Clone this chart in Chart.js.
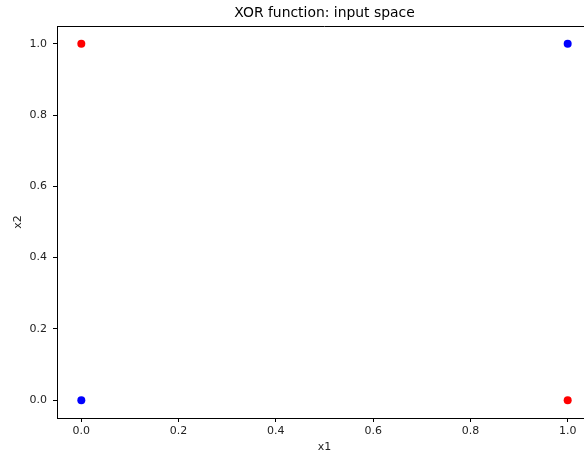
<!DOCTYPE html>
<html>
<head>
<meta charset="utf-8">
<script src="https://cdn.jsdelivr.net/npm/chart.js@4/dist/chart.umd.min.js"></script>
<style>
  html, body { margin: 0; padding: 0; background: #fff; overflow: hidden; }
  #wrap { width: 584px; height: 454px; overflow: hidden; }
</style>
</head>
<body>
<div id="wrap"><canvas id="xorChart" width="600" height="454"></canvas></div>
<script>
// XOR truth table: inputs and output class
const x1 = [0, 0, 1, 1];
const x2 = [0, 1, 0, 1];
const xorOut = [0, 1, 1, 0];
const classColors = ['#0000ff', '#ff0000'];
const tickValues = [0.0, 0.2, 0.4, 0.6, 0.8, 1.0];
const chartTitle = 'XOR function: input space';

const points = x1.map((v, i) => ({ x: v, y: x2[i] }));

// spines on top/right + title centred over the axes (like matplotlib)
const frame = {
    id: 'frame',
    afterDraw(chart) {
        const { ctx, chartArea: a } = chart;
        ctx.save();
        ctx.strokeStyle = '#000';
        ctx.lineWidth = 1;
        ctx.beginPath();
        ctx.moveTo(a.left, a.top + 0.5);
        ctx.lineTo(a.right, a.top + 0.5);
        ctx.moveTo(a.right - 0.5, a.top);
        ctx.lineTo(a.right - 0.5, a.bottom);
        ctx.stroke();

        ctx.fillStyle = '#000';
        ctx.font = '13.9px "DejaVu Sans"';
        ctx.textAlign = 'center';
        ctx.textBaseline = 'middle';
        ctx.fillText(chartTitle, (a.left + a.right) / 2, 13);
        ctx.restore();
    }
};

const fixedTicks = (scale) => { scale.ticks = tickValues.map(v => ({ value: v })); };

const font = { family: 'DejaVu Sans', size: 11 };

new Chart(document.getElementById('xorChart'), {
    type: 'scatter',
    data: {
        datasets: [{
            data: points,
            pointRadius: 4,
            pointHoverRadius: 4,
            borderWidth: 0,
            backgroundColor: ctx => classColors[xorOut[ctx.dataIndex]]
        }]
    },
    options: {
        responsive: false,
        animation: false,
        events: [],
        layout: { padding: { left: 0, right: 8, top: 26, bottom: 0 } },
        plugins: {
            legend: { display: false },
            tooltip: { enabled: false },
            title: { display: false }
        },
        scales: {
            x: {
                type: 'linear',
                min: -0.05,
                max: 1.05,
                afterBuildTicks: fixedTicks,
                afterFit: s => { s.height = 36; },
                border: { display: true, color: '#000', width: 1 },
                grid: { display: true, drawOnChartArea: false, drawTicks: true, tickLength: 4, tickColor: '#000' },
                ticks: { color: '#222', font, padding: 3, maxRotation: 0, callback: v => v.toFixed(1) },
                title: { display: true, text: 'x1', color: '#222', font, padding: { top: 0, bottom: 0 } }
            },
            y: {
                type: 'linear',
                min: -0.05,
                max: 1.05,
                afterBuildTicks: fixedTicks,
                afterFit: s => { s.width = 57; },
                border: { display: true, color: '#000', width: 1 },
                grid: { display: true, drawOnChartArea: false, drawTicks: true, tickLength: 4, tickColor: '#000' },
                ticks: { color: '#222', font, padding: 6, callback: v => v.toFixed(1) },
                title: { display: true, text: 'x2', color: '#222', font, padding: { top: 12, bottom: 0 } }
            }
        }
    },
    plugins: [frame]
});
</script>
</body>
</html>
